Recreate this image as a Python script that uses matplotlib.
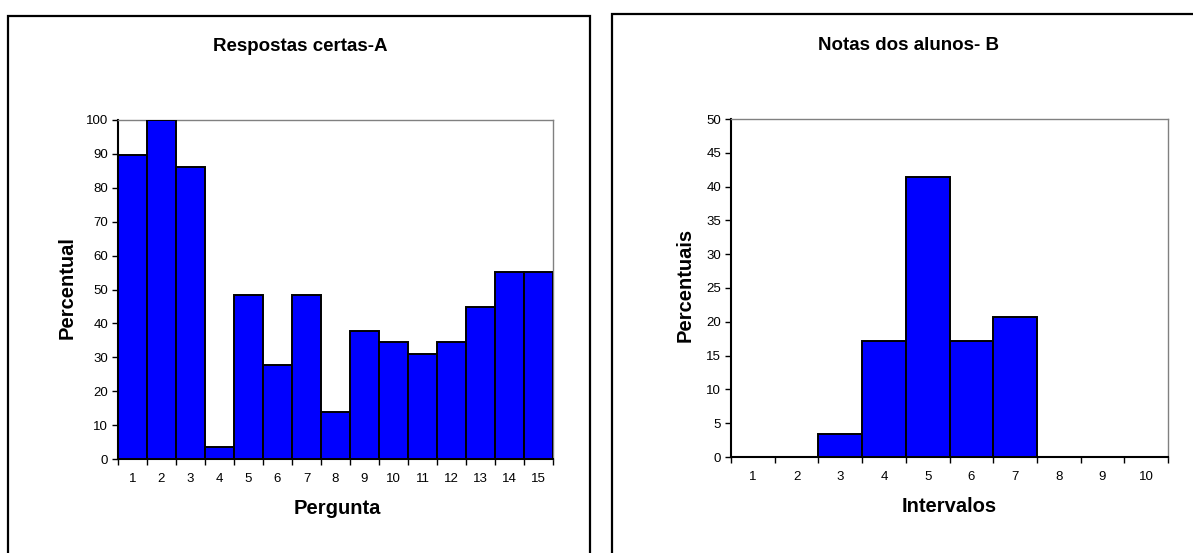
import matplotlib
matplotlib.use("Agg")
import matplotlib.pyplot as plt
from matplotlib.patches import Rectangle
import numpy as np

plt.rcParams['font.family'] = ['Liberation Sans', 'DejaVu Sans']

# Data
perguntas = list(range(1, 16))
respostas_certas = [89.7, 100, 86.2, 3.4, 48.3, 27.6, 48.3, 13.8, 37.9, 34.5, 31.0, 34.5, 44.8, 55.2, 55.2]
intervalos = list(range(1, 11))
notas_pct = [0, 0, 3.4, 17.2, 41.4, 17.2, 20.7, 0, 0, 0]

W, H = 1193, 553
fig = plt.figure(figsize=(W / 100, H / 100), dpi=100)

def fx(px):
    return px / W

def fy(py):
    return 1 - py / H

# Frames
fig.patches.append(Rectangle((fx(8), fy(600)), fx(590) - fx(8), fy(16) - fy(600),
                             transform=fig.transFigure, fill=False, edgecolor='black', lw=1.6))
fig.patches.append(Rectangle((fx(612), fy(600)), fx(1250) - fx(612), fy(14) - fy(600),
                             transform=fig.transFigure, fill=False, edgecolor='black', lw=1.6))

def style_axes(ax, cats, vals, ymax, ystep):
    n = len(cats)
    x = np.arange(n)
    ax.bar(x, vals, width=1.0, color='#0000FF', edgecolor='black', linewidth=1.4, zorder=3)
    ax.set_xlim(-0.5, n - 0.5)
    ax.set_ylim(0, ymax)
    ax.set_yticks(np.arange(0, ymax + 0.1, ystep))
    ax.tick_params(axis='y', direction='out', length=4, width=1, labelsize=9.5, pad=3)
    ax.set_xticks(np.arange(-0.5, n, 1.0))
    ax.set_xticklabels([])
    ax.tick_params(axis='x', which='major', direction='out', length=4, width=1)
    ax.set_xticks(x, minor=True)
    ax.set_xticklabels([str(c) for c in cats], minor=True)
    ax.tick_params(axis='x', which='minor', length=0, labelsize=9.5, pad=10)
    for s in ['top', 'right']:
        ax.spines[s].set_color('#808080')
        ax.spines[s].set_linewidth(1)
    for s in ['left', 'bottom']:
        ax.spines[s].set_color('black')
        ax.spines[s].set_linewidth(1.5)

axL = fig.add_axes([fx(118), fy(459), fx(553) - fx(118), fy(120) - fy(459)])
style_axes(axL, perguntas, respostas_certas, 100, 10)

axR = fig.add_axes([fx(731), fy(457), fx(1168) - fx(731), fy(119) - fy(457)])
style_axes(axR, intervalos, notas_pct, 50, 5)

fig.text(fx(300), fy(47), 'Respostas certas-A', ha='center', va='center', fontsize=13.5, fontweight='bold')
fig.text(fx(909), fy(46), 'Notas dos alunos- B', ha='center', va='center', fontsize=13.5, fontweight='bold')
fig.text(fx(337), fy(509), 'Pergunta', ha='center', va='center', fontsize=14.5, fontweight='bold')
fig.text(fx(949), fy(506), 'Intervalos', ha='center', va='center', fontsize=14.5, fontweight='bold')
fig.text(fx(67), fy(288), 'Percentual', ha='center', va='center', rotation=90, fontsize=14.5, fontweight='bold')
fig.text(fx(685), fy(285), 'Percentuais', ha='center', va='center', rotation=90, fontsize=14.5, fontweight='bold')

fig.savefig('out.png', dpi=100)
